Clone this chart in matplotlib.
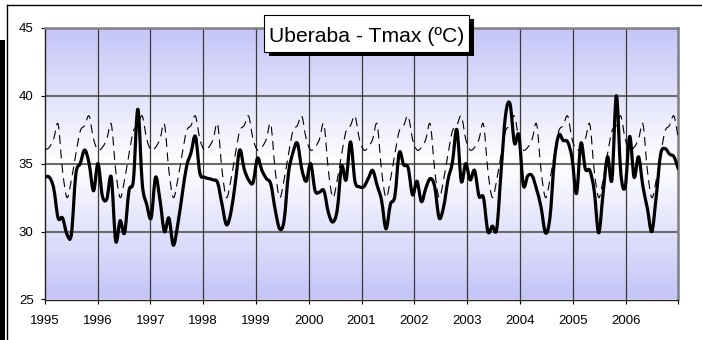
import numpy as np
import matplotlib
matplotlib.use("Agg")
import matplotlib.pyplot as plt
from matplotlib.path import Path
from matplotlib.patches import PathPatch, Rectangle
from matplotlib.lines import Line2D
from matplotlib.colors import to_rgb

# ---- data: monthly maximum temperature (ºC), Uberaba ----
years = list(range(1995, 2007))
year_labels = [str(y) for y in years] + [""]

tmax_1995 = [34.0, 34.0, 33.2, 31.0, 31.0, 29.8, 29.8, 34.2, 35.0, 36.0, 35.0, 33.0]
tmax_1996 = [35.0, 32.6, 32.4, 34.0, 29.3, 30.8, 29.9, 33.0, 33.8, 39.0, 33.5, 32.0]
tmax_1997 = [31.0, 34.0, 32.3, 30.0, 31.0, 29.0, 30.5, 32.7, 34.8, 35.8, 37.0, 34.3]
tmax_1998 = [34.0, 33.9, 33.8, 33.6, 32.0, 30.5, 31.4, 33.6, 36.0, 34.6, 33.8, 33.6]
tmax_1999 = [35.4, 34.5, 33.9, 33.5, 31.6, 30.2, 30.8, 34.3, 35.8, 36.5, 34.6, 33.7]
tmax_2000 = [35.0, 33.0, 32.9, 33.0, 31.4, 30.7, 31.6, 34.8, 33.8, 36.6, 33.7, 33.3]
tmax_2001 = [33.3, 33.9, 34.5, 33.4, 32.3, 30.2, 32.0, 32.6, 35.8, 34.9, 34.7, 32.7]
tmax_2002 = [33.7, 32.2, 33.2, 33.9, 33.3, 31.0, 31.8, 33.8, 35.1, 37.5, 33.7, 35.0]
tmax_2003 = [33.8, 34.5, 32.6, 32.5, 30.0, 30.4, 30.2, 34.5, 38.6, 39.4, 36.5, 37.1]
tmax_2004 = [33.4, 34.1, 34.1, 33.1, 31.8, 29.9, 31.0, 35.2, 37.1, 36.7, 36.6, 35.4]
tmax_2005 = [32.8, 36.5, 34.6, 34.5, 33.0, 29.9, 32.8, 35.5, 33.8, 40.0, 34.3, 33.3]
tmax_2006 = [37.0, 34.0, 35.5, 33.3, 31.7, 30.0, 32.6, 35.7, 36.1, 35.7, 35.5, 34.6]

# climatological normal, Jan..Dec (repeated every year)
tmax_normal = [36.0, 36.2, 36.8, 37.9, 34.5, 32.5, 33.8, 35.7, 37.4, 37.8, 38.5, 36.8]

monthly = np.concatenate([tmax_1995, tmax_1996, tmax_1997, tmax_1998, tmax_1999,
                          tmax_2000, tmax_2001, tmax_2002, tmax_2003, tmax_2004,
                          tmax_2005, tmax_2006])
normal = np.tile(tmax_normal, len(years))
n = len(monthly)
# the monthly points fill the whole axis from the first to the last year tick
x = years[0] + np.arange(n) * len(years) / (n - 1)


def smooth_path(xs, ys):
    """Smoothed line through the points (cubic Bezier, Catmull-Rom tangents)."""
    pts = np.column_stack([xs, ys])
    p = np.vstack([pts[0], pts, pts[-1]])
    verts = [pts[0]]
    codes = [Path.MOVETO]
    for k in range(1, len(p) - 2):
        p0, p1, p2, p3 = p[k - 1], p[k], p[k + 1], p[k + 2]
        verts += [p1 + (p2 - p0) / 6.0, p2 - (p3 - p1) / 6.0, p2]
        codes += [Path.CURVE4] * 3
    return Path(verts, codes)


W, H = 702, 340
fig = plt.figure(figsize=(W / 100, H / 100), dpi=100)
fig.patch.set_facecolor("white")
plt.rcParams["font.family"] = ["Liberation Sans", "DejaVu Sans"]

L, R, T, B = 44.8, 678.4, 27.7, 299.5
ax = fig.add_axes([L / W, 1 - B / H, (R - L) / W, (B - T) / H])

x0, x1 = years[0], years[-1] + 1
y0, y1 = 25, 45

# plot-area gradient: lavender at top and bottom, white in the middle
lav = np.array(to_rgb("#c4c4f8"))
t = np.linspace(0, 1, 256)
w = np.abs(2 * t - 1)[:, None]
grad = (1 - w) * np.ones(3) + w * lav
ax.imshow(grad[:, None, :], extent=[x0, x1, y0, y1], aspect="auto",
          origin="lower", zorder=0, interpolation="bilinear")

for yv in (30, 35, 40):
    ax.axhline(yv, color="#6a6a6a", lw=1.5, zorder=1)
for xv in years[1:]:
    ax.axvline(xv, color="#3a3a3a", lw=0.9, zorder=1)

ax.add_patch(PathPatch(smooth_path(x, normal), fill=False, edgecolor="black",
                       lw=0.8, linestyle=(0, (8, 5)), zorder=3))
ax.add_patch(PathPatch(smooth_path(x, monthly), fill=False, edgecolor="black",
                       lw=2.3, joinstyle="round", capstyle="round", zorder=4))

ax.set_xlim(x0, x1)
ax.set_ylim(y0, y1)
ax.set_xticks(list(range(x0, x1 + 1)))
ax.set_xticklabels(year_labels)
ax.set_yticks([25, 30, 35, 40, 45])
ax.tick_params(axis="both", direction="out", length=3, width=0.8, labelsize=9.5,
               colors="black")
ax.tick_params(axis="x", pad=8.5)
ax.tick_params(axis="y", pad=5)

for side in ("left", "bottom"):
    ax.spines[side].set_color("#202020")
    ax.spines[side].set_linewidth(1.0)
for side in ("top", "right"):
    ax.spines[side].set_color("#808080")
    ax.spines[side].set_linewidth(1.8)


def fx(px):
    return px / W


def fy(py):
    return 1 - py / H


# chart frame
fig.add_artist(Line2D([fx(6.7), fx(W)], [fy(5), fy(5)], color="black", lw=1.0))
fig.add_artist(Line2D([fx(6.7), fx(6.7)], [fy(5), fy(H)], color="black", lw=1.0))
fig.add_artist(Rectangle((0, 0), fx(4.8), fy(40), color="black", lw=0))

# title box with drop shadow
bx0, bx1, by0, by1 = 264, 469, 15, 51.7
fig.add_artist(Rectangle((fx(bx0 + 5), fy(by1 + 4)), fx(bx1 - bx0), (by1 - by0) / H,
                         facecolor="black", edgecolor="none", zorder=5))
fig.add_artist(Rectangle((fx(bx0), fy(by1)), fx(bx1 - bx0), (by1 - by0) / H,
                         facecolor="white", edgecolor="black", lw=0.8, zorder=6))
fig.text(fx((bx0 + bx1) / 2), fy(42.3), "Uberaba - Tmax (ºC)", ha="center",
         va="baseline", fontsize=15.2, color="black", zorder=7)

fig.savefig("out.png", dpi=100)
